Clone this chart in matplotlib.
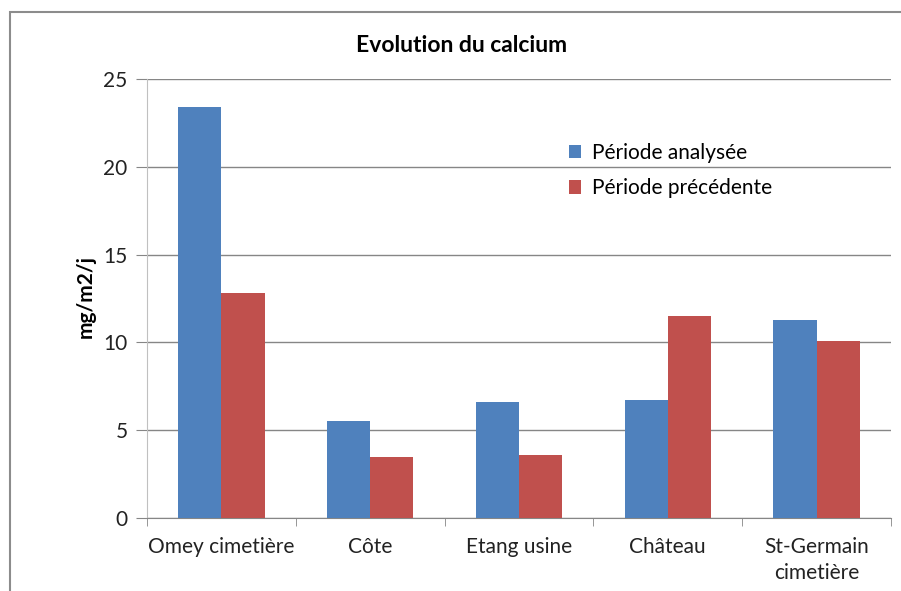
import matplotlib.pyplot as plt
import numpy as np
from matplotlib.patches import Rectangle

plt.rcParams['font.family'] = ['Lato', 'DejaVu Sans']

sites = ['Omey cimetière', 'Côte', 'Etang usine', 'Château', 'St-Germain\ncimetière']
periode_analysee = [23.4, 5.5, 6.6, 6.7, 11.3]
periode_precedente = [12.8, 3.5, 3.6, 11.5, 10.1]
series_names = ['Période analysée', 'Période précédente']
yticks = [0, 5, 10, 15, 20, 25]

blue = '#4F81BD'
red = '#C0504D'
grid_col = '#868686'

fig = plt.figure(figsize=(9.01, 5.91), dpi=100)
# outer chart frame (cut off at right and bottom like the screenshot)
fig.patches.append(Rectangle((10 / 901, -0.1), 1.1, 1 - 12 / 591 + 0.1,
                             transform=fig.transFigure, fill=False,
                             edgecolor='#8c8c8c', linewidth=1.5))

ax = fig.add_axes([147 / 901, 1 - 518 / 591, (891 - 147) / 901, (518 - 79) / 591])

x = np.arange(len(sites))
w = 0.29
ax.bar(x - w / 2, periode_analysee, w, color=blue, label=series_names[0], zorder=3)
ax.bar(x + w / 2, periode_precedente, w, color=red, label=series_names[1], zorder=3)

ax.set_xlim(-0.5, len(sites) - 0.5)
ax.set_ylim(0, 25)
ax.set_yticks(yticks)
ax.yaxis.grid(True, color=grid_col, linewidth=1)
ax.set_axisbelow(True)

ax.set_xticks(x)
ax.set_xticklabels(sites, fontsize=15, color='#222222', linespacing=1.35)
ax.set_xticks(np.arange(-0.5, len(sites)), minor=True)
ax.tick_params(axis='x', which='major', length=0, pad=14)
ax.tick_params(axis='x', which='minor', length=6, color=grid_col, direction='out')
ax.tick_params(axis='y', length=8, color=grid_col, labelsize=15, pad=6, labelcolor='#222222')

for s in ['top', 'right']:
    ax.spines[s].set_visible(False)
ax.spines['left'].set_color('#c0c0c0')
ax.spines['bottom'].set_color(grid_col)

fig.text(462 / 901, 1 - 45 / 591, 'Evolution du calcium', ha='center', va='center',
         fontsize=16.5, fontweight='bold')
fig.text(86 / 901, 1 - 297 / 591, 'mg/m2/j', ha='center', va='center',
         rotation=90, fontsize=15, fontweight='bold')

ax.legend(loc='upper left', bbox_to_anchor=(550 / 901, 1 - 124 / 591),
          bbox_transform=fig.transFigure, frameon=False, fontsize=15,
          handlelength=0.6, handleheight=0.6, handletextpad=0.5, labelspacing=0.75)

fig.savefig('out.png', dpi=100)
